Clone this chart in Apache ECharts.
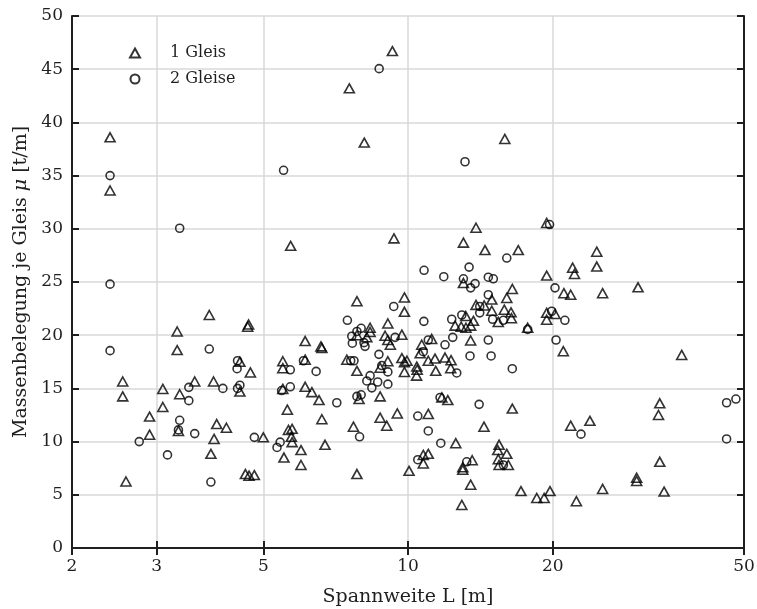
<!DOCTYPE html>
<html>
<head>
<meta charset="utf-8">
<script src="https://cdn.jsdelivr.net/npm/echarts@6/dist/echarts.min.js"></script>
<style>
  html, body { margin: 0; padding: 0; background: #fff; }
  #chart { width: 757px; height: 609px; }
</style>
</head>
<body>
<div id="chart"></div>
<script>
// Spannweite L [m] and Massenbelegung μ [t/m], eingleisige Brücken
const spanOneTrack = [
  2.40, 2.40, 7.55, 9.28, 8.11, 15.9, 3.86, 3.31, 3.31, 5.70,
  9.35, 7.83, 9.83, 9.83, 4.66, 4.64, 8.34, 8.34, 7.83, 8.21,
  9.08, 8.96, 9.08, 9.71, 9.19, 6.11, 6.59, 6.62, 13.85, 19.43,
  13.04, 14.46, 16.96, 22.0, 22.2, 19.43, 13.04, 16.48, 21.1, 21.8,
  16.05, 14.94, 13.85, 14.4, 14.94, 15.86, 16.38, 16.41, 15.41, 19.43,
  20.22, 19.43, 17.74, 13.19, 13.68, 12.53, 12.9, 13.2, 13.5, 11.2,
  13.5, 21.04, 10.68, 10.6, 9.95, 10.43, 10.45, 10.42, 11.02, 11.38,
  11.94, 12.29, 11.42, 12.27, 11.76, 12.1, 16.48, 11.02, 14.39, 21.8,
  12.57, 10.76, 11.02, 10.76, 10.05, 13.6, 13.0, 13.0, 13.5, 12.94,
  15.47, 15.37, 16.05, 15.41, 15.47, 16.17, 17.18, 18.53, 19.2, 19.74,
  22.4, 37.1, 33.4, 33.2, 23.9, 33.4, 29.9, 29.9, 25.4, 34.1,
  24.7, 24.7, 25.4, 30.1, 2.55, 2.55, 3.09, 3.09, 2.90, 2.90,
  2.59, 3.35, 3.60, 3.33, 3.94, 4.0, 4.19, 3.95, 3.89, 4.47,
  4.47, 4.70, 4.59, 4.67, 4.79, 5.0, 5.49, 5.49, 6.11, 7.46,
  7.83, 5.49, 6.11, 6.31, 6.53, 5.61, 6.62, 5.64, 5.74, 5.72,
  5.74, 5.52, 5.99, 5.99, 6.72, 7.91, 8.75, 7.7, 8.75, 9.03,
  9.5, 7.83, 8.75, 9.08, 9.71, 9.83, 9.83
];
const loadOneTrack = [
  38.6, 33.6, 43.2, 46.7, 38.1, 38.45, 21.9, 20.35, 18.6, 28.4,
  29.1, 23.2, 23.55, 22.2, 21.0, 20.8, 20.7, 20.3, 20.0, 19.8,
  21.1, 19.95, 19.55, 20.05, 19.1, 19.45, 18.95, 18.8, 30.1, 30.55,
  28.7, 28.0, 28.0, 26.35, 25.75, 25.6, 24.9, 24.35, 23.95, 23.8,
  23.5, 23.35, 22.85, 22.8, 22.3, 22.4, 22.15, 21.6, 21.25, 22.1,
  22.0, 21.45, 20.7, 21.8, 21.35, 20.9, 20.8, 20.7, 20.9, 19.65,
  19.5, 18.5, 19.1, 18.3, 17.6, 17.05, 16.75, 16.2, 17.6, 17.8,
  17.9, 17.65, 16.65, 16.9, 14.15, 13.9, 13.1, 12.6, 11.4, 11.5,
  9.85, 8.75, 8.85, 7.95, 7.25, 8.25, 7.35, 7.6, 5.95, 4.05,
  9.7, 9.2, 8.85, 8.35, 7.8, 7.8, 5.35, 4.7, 4.7, 5.35,
  4.4, 18.15, 13.6, 12.5, 11.95, 8.1, 6.6, 6.3, 5.55, 5.3,
  27.85, 26.45, 23.95, 24.5, 15.65, 14.25, 14.95, 13.25, 12.35, 10.65,
  6.25, 14.45, 15.65, 11.0, 15.65, 11.65, 11.3, 10.25, 8.85, 14.7,
  17.5, 16.5, 6.95, 6.8, 6.85, 10.4, 17.55, 16.9, 17.7, 17.7,
  16.65, 14.95, 15.15, 14.65, 13.9, 13.0, 12.1, 11.1, 11.2, 10.45,
  9.95, 8.5, 9.2, 7.8, 9.7, 14.0, 14.25, 11.4, 12.25, 11.5,
  12.65, 6.95, 16.95, 17.55, 17.85, 17.45, 16.55
];

// Spannweite L [m] and Massenbelegung μ [t/m], zweigleisige Brücken
const spanTwoTracks = [
  2.40, 5.51, 8.71, 13.14, 3.35, 2.40, 2.40, 3.86, 9.34, 7.48,
  7.99, 7.83, 7.64, 7.66, 8.14, 9.40, 19.7, 16.05, 10.8, 11.87,
  13.4, 13.04, 13.79, 13.5, 14.69, 15.05, 14.69, 20.22, 14.1, 14.1,
  15.0, 15.79, 19.9, 21.2, 17.74, 10.79, 12.94, 12.33, 12.39, 11.94,
  11.02, 14.69, 20.32, 10.76, 13.46, 14.89, 12.63, 16.48, 11.66, 14.06,
  10.48, 11.02, 22.9, 11.7, 10.48, 13.25, 15.79, 46.0, 48.1, 46.0,
  2.76, 3.16, 3.50, 3.50, 3.35, 3.33, 3.60, 4.12, 3.89, 4.42,
  4.47, 4.41, 4.42, 4.79, 5.69, 6.06, 6.44, 7.6, 7.72, 5.46,
  5.69, 7.11, 5.42, 5.34, 7.83, 7.99, 7.93, 8.34, 8.21, 8.65,
  8.41, 9.08, 9.08, 8.7, 8.82, 8.1
];
const loadTwoTracks = [
  35.0, 35.5, 45.05, 36.3, 30.05, 24.8, 18.55, 18.7, 22.7, 21.4,
  20.65, 20.35, 19.9, 19.25, 18.95, 19.8, 30.4, 27.25, 26.1, 25.5,
  26.4, 25.3, 24.85, 24.45, 25.45, 25.3, 23.8, 24.45, 22.7, 22.1,
  21.5, 21.4, 22.25, 21.4, 20.55, 21.3, 21.9, 21.5, 19.8, 19.1,
  19.55, 19.55, 19.55, 18.45, 18.05, 18.05, 16.45, 16.85, 14.15, 13.5,
  12.4, 11.0, 10.7, 9.85, 8.3, 8.1, 7.8, 13.65, 14.0, 10.25,
  10.0, 8.75, 15.1, 13.85, 12.0, 11.1, 10.75, 15.0, 6.2, 15.0,
  15.3, 16.85, 17.6, 10.4, 16.75, 17.6, 16.6, 17.6, 17.6, 14.8,
  15.15, 13.65, 9.95, 9.45, 14.25, 14.4, 10.45, 16.2, 15.7, 15.6,
  15.05, 15.4, 16.55, 18.2, 17.15, 19.3
];

const spanTicks = [2, 3, 5, 10, 20, 50];
const seriesNames = ['1 Gleis', '2 Gleise'];

const zip = (xs, ys) => xs.map((x, i) => [x, ys[i]]);

const ink = '#1f1f1f';
const gridGray = '#d9d9d9';
const serif = 'DejaVu Serif';

const chart = echarts.init(document.getElementById('chart'), null, { renderer: 'canvas' });

const xBase = {
  type: 'log',
  logBase: 10,
  min: 2,
  max: 50,
  axisLine: { show: true, lineStyle: { color: ink, width: 2 } },
  axisTick: { show: true, inside: true, length: 7, customValues: spanTicks,
              lineStyle: { color: ink, width: 2 } },
  splitLine: { show: false },
  axisLabel: { show: false }
};
const yBase = {
  type: 'value',
  min: 0,
  max: 50,
  interval: 5,
  axisLine: { show: true, lineStyle: { color: ink, width: 2 } },
  axisTick: { show: true, inside: true, length: 7, lineStyle: { color: ink, width: 2 } },
  splitLine: { show: false },
  axisLabel: { show: false }
};

chart.setOption({
  animation: false,
  backgroundColor: '#ffffff',
  textStyle: { fontFamily: serif },
  grid: { left: 72, right: 13, top: 16, bottom: 61, outerBoundsMode: 'none' },
  legend: {
    orient: 'vertical',
    left: 124,
    top: 40,
    padding: 5,
    itemWidth: 10,
    itemHeight: 9,
    itemGap: 10,
    selectedMode: false,
    textStyle: { fontFamily: serif, fontSize: 16, color: ink, lineHeight: 16, padding: [0, 0, 0, 25] },
    data: seriesNames
  },
  xAxis: [
    Object.assign({}, xBase, {
      position: 'bottom',
      name: 'Spannweite L [m]',
      nameLocation: 'middle',
      nameGap: 40,
      nameTextStyle: { fontFamily: serif, fontSize: 19, color: ink },
      splitLine: { show: true, lineStyle: { color: gridGray, width: 1.5 } },
      axisLabel: { show: true, customValues: spanTicks, margin: 10,
                   fontFamily: serif, fontSize: 17, color: ink,
                   formatter: v => String(Math.round(v)) }
    }),
    Object.assign({}, xBase, { position: 'top' })
  ],
  yAxis: [
    Object.assign({}, yBase, {
      position: 'left',
      name: '{a|Massenbelegung je Gleis }{b|μ}{a| [t/m]}',
      nameLocation: 'middle',
      nameGap: 39,
      nameRotate: 90,
      nameTextStyle: {
        color: ink,
        rich: {
          a: { fontFamily: serif, fontSize: 19, color: ink },
          b: { fontFamily: serif, fontSize: 19, color: ink, fontStyle: 'italic' }
        }
      },
      splitLine: { show: true, lineStyle: { color: gridGray, width: 1.5 } },
      axisLabel: { show: true, margin: 9, fontFamily: serif, fontSize: 17, color: ink }
    }),
    Object.assign({}, yBase, { position: 'right' })
  ],
  series: [
    {
      name: seriesNames[0],
      type: 'scatter',
      xAxisIndex: 0,
      yAxisIndex: 0,
      symbol: 'triangle',
      symbolSize: [10, 9],
      itemStyle: { color: 'rgba(255,255,255,0)', borderColor: '#000', borderWidth: 1.6 },
      data: zip(spanOneTrack, loadOneTrack)
    },
    {
      name: seriesNames[1],
      type: 'scatter',
      xAxisIndex: 0,
      yAxisIndex: 0,
      symbol: 'circle',
      symbolSize: 8,
      itemStyle: { color: 'rgba(255,255,255,0)', borderColor: '#000', borderWidth: 1.6 },
      data: zip(spanTwoTracks, loadTwoTracks)
    }
  ]
});
</script>
</body>
</html>
